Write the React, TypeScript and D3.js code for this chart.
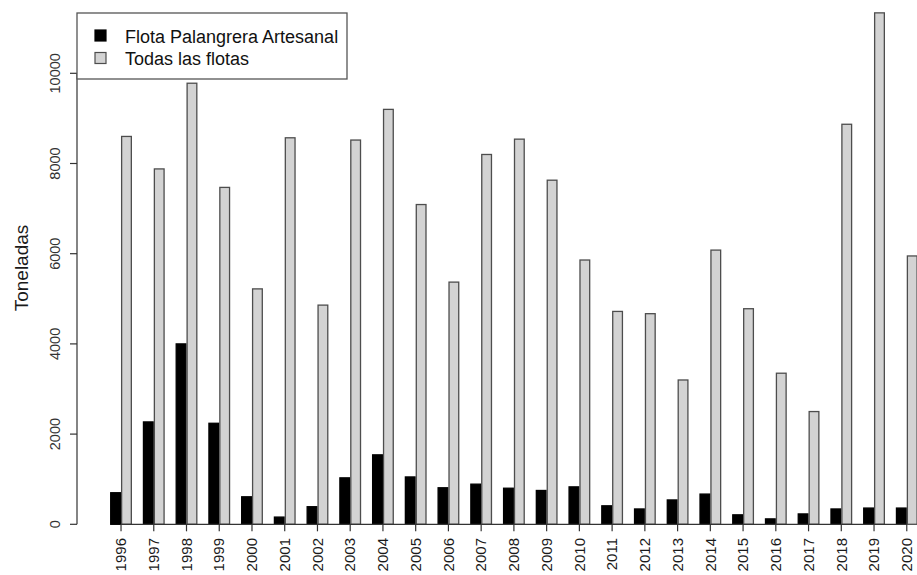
import React, { useEffect, useRef } from 'react'
import * as d3 from 'd3'

// values (toneladas)
const years = [
  '1996', '1997', '1998', '1999', '2000', '2001', '2002', '2003', '2004', '2005', '2006', '2007', '2008',
  '2009', '2010', '2011', '2012', '2013', '2014', '2015', '2016', '2017', '2018', '2019', '2020',
]
const flotaPalangrera = [
  700, 2270, 4000, 2240, 610, 160, 390, 1030, 1540, 1050, 810, 890, 800,
  750, 830, 410, 340, 540, 670, 210, 120, 230, 340, 360, 360,
]
const todasFlotas = [
  8600, 7880, 9780, 7470, 5220, 8570, 4860, 8520, 9200, 7090, 5370, 8200, 8540,
  7630, 5860, 4720, 4670, 3200, 6080, 4780, 3350, 2500, 8870, 11340, 5950,
]
const yTicks = [0, 2000, 4000, 6000, 8000, 10000]
const seriesNames = ['Flota Palangrera Artesanal', 'Todas las flotas']
const seriesFill = ['#000000', '#d3d3d3']
const seriesStroke = ['#000000', '#4d4d4d']

const W = 917
const H = 575
const FONT = '"Liberation Sans", Arial, Helvetica, sans-serif'

const Chart = () => {
  const ref = useRef<SVGSVGElement>(null)

  useEffect(() => {
    draw()
  }, [])

  const draw = () => {
    const svg = d3.select(ref.current)
    svg.selectAll('*').remove()

    const y = d3.scaleLinear().domain([0, 10000]).range([524.3, 73.3])
    // R barplot style: two bars per group, one bar-width of space between groups
    const x0 = d3.scaleBand<string>().domain(years).range([99.2, 928.6])
      .paddingInner(1 / 3).paddingOuter(1 / 3)
    const x1 = d3.scaleBand<number>().domain([0, 1]).range([0, x0.bandwidth()])

    const rows = years.map((yr, i) => ({ year: yr, vals: [flotaPalangrera[i], todasFlotas[i]] }))

    const groups = svg.append('g').selectAll('g')
      .data(rows)
      .enter()
      .append('g')
      .attr('transform', (d) => `translate(${x0(d.year)},0)`)

    groups.selectAll('rect')
      .data((d) => d.vals.map((v, k) => ({ v, k })))
      .enter()
      .append('rect')
      .attr('x', (d) => (x1(d.k) || 0) + 0.6)
      .attr('width', x1.bandwidth() - 1.2)
      .attr('y', (d) => y(d.v))
      .attr('height', (d) => y(0) - y(d.v))
      .attr('fill', (d) => seriesFill[d.k])
      .attr('stroke', (d) => seriesStroke[d.k])
      .attr('stroke-width', 1.3)

    // x axis: line between first and last tick, ticks at group centres
    const cx = (yr: string) => (x0(yr) || 0) + x0.bandwidth() / 2
    const xa = svg.append('g')
    xa.append('line')
      .attr('x1', cx(years[0])).attr('x2', cx(years[years.length - 1]))
      .attr('y1', y(0)).attr('y2', y(0))
      .attr('stroke', '#333').attr('stroke-width', 1.2)
    xa.selectAll('.xt')
      .data(years)
      .enter()
      .append('line')
      .attr('x1', (d) => cx(d)).attr('x2', (d) => cx(d))
      .attr('y1', y(0)).attr('y2', y(0) + 7)
      .attr('stroke', '#333').attr('stroke-width', 1.2)
    xa.selectAll('text')
      .data(years)
      .enter()
      .append('text')
      .attr('transform', (d) => `translate(${cx(d)},538) rotate(-90)`)
      .attr('text-anchor', 'end')
      .attr('dy', '0.35em')
      .attr('font-family', FONT)
      .attr('font-size', 15)
      .attr('fill', '#1a1a1a')
      .text((d) => d)

    // y axis
    const ya = svg.append('g')
    ya.append('line')
      .attr('x1', 77).attr('x2', 77)
      .attr('y1', y(0)).attr('y2', y(10000))
      .attr('stroke', '#333').attr('stroke-width', 1.2)
    ya.selectAll('.yt')
      .data(yTicks)
      .enter()
      .append('line')
      .attr('x1', 70).attr('x2', 77)
      .attr('y1', (d) => y(d)).attr('y2', (d) => y(d))
      .attr('stroke', '#333').attr('stroke-width', 1.2)
    ya.selectAll('text')
      .data(yTicks)
      .enter()
      .append('text')
      .attr('transform', (d) => `translate(55,${y(d)}) rotate(-90)`)
      .attr('text-anchor', 'middle')
      .attr('dy', '0.35em')
      .attr('font-family', FONT)
      .attr('font-size', 14.5)
      .attr('fill', '#333')
      .text((d) => String(d))

    svg.append('text')
      .attr('transform', 'translate(28,268) rotate(-90)')
      .attr('text-anchor', 'middle')
      .attr('font-family', FONT)
      .attr('font-size', 19)
      .attr('fill', '#1a1a1a')
      .text('Toneladas')

    // legend
    const lg = svg.append('g')
    lg.append('rect')
      .attr('x', 77).attr('y', 13)
      .attr('width', 270).attr('height', 66)
      .attr('fill', '#fff')
      .attr('stroke', '#555').attr('stroke-width', 1.3)
    seriesNames.forEach((name, k) => {
      lg.append('rect')
        .attr('x', 95).attr('y', 30 + k * 22.5)
        .attr('width', 11).attr('height', 11)
        .attr('fill', seriesFill[k])
        .attr('stroke', seriesStroke[k]).attr('stroke-width', 1.2)
      lg.append('text')
        .attr('x', 125).attr('y', 42.5 + k * 22.5)
        .attr('font-family', FONT)
        .attr('font-size', 18)
        .attr('fill', '#111')
        .text(name)
    })
  }

  return <svg ref={ref} width={W} height={H} style={{ position: 'absolute', left: 0, top: 0, background: '#fff' }} />
}

export default function App() {
  return <Chart />
}
